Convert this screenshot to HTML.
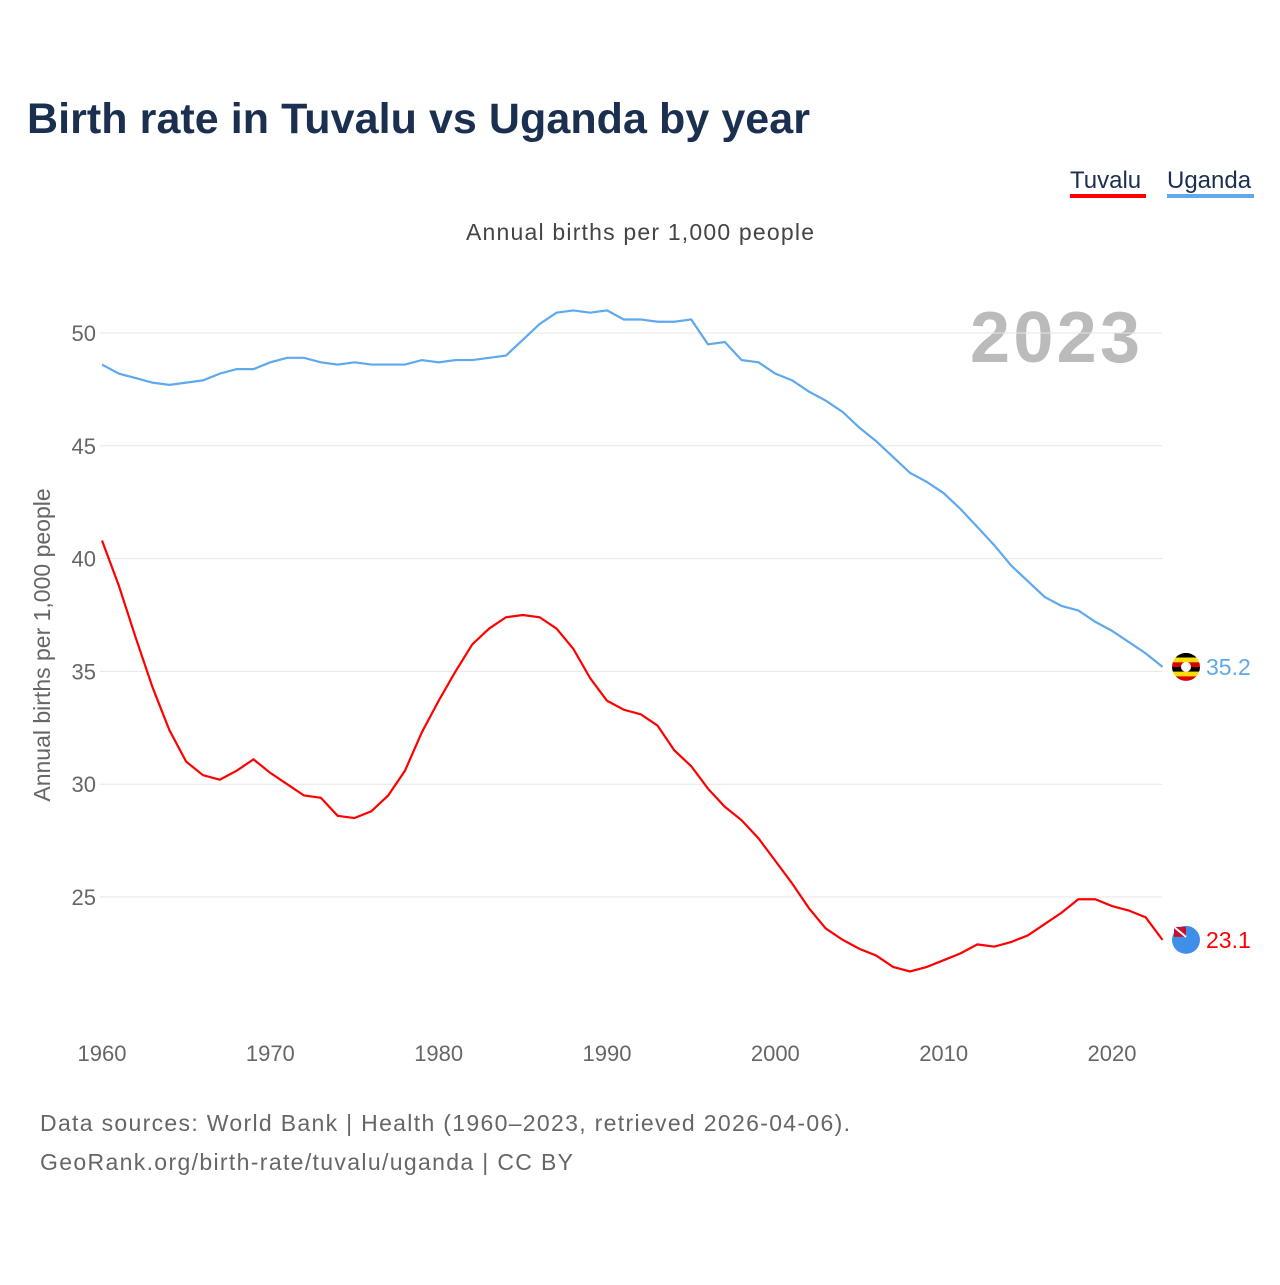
<!DOCTYPE html>
<html><head><meta charset="utf-8"><style>
body{margin:0;background:#fff;font-family:"Liberation Sans",sans-serif}
svg text{font-family:"Liberation Sans",sans-serif}
</style></head><body>
<svg id="chart" width="1280" height="1280">
<text x="27" y="133" font-size="43" font-weight="bold" fill="#1b3050" textLength="783">Birth rate in Tuvalu vs Uganda by year</text>
<g><text x="1070" y="188" font-size="24" fill="#1b3050">Tuvalu</text><rect x="1070" y="194" width="76" height="4" fill="#ff0000"/></g>
<g><text x="1167" y="188" font-size="24" fill="#1b3050">Uganda</text><rect x="1167" y="194" width="87" height="4" fill="#5ea8ee"/></g>
<text x="466" y="240" font-size="23" fill="#444" textLength="348">Annual births per 1,000 people</text>
<text x="970" y="362" font-size="72" font-weight="bold" fill="#bbb" textLength="170">2023</text>
<text transform="translate(50,645) rotate(-90)" font-size="23" fill="#666" text-anchor="middle">Annual births per 1,000 people</text>
<g id="grid"></g><g id="series"></g>
<text x="40" y="1131" font-size="23" fill="#666" textLength="810">Data sources: World Bank | Health (1960–2023, retrieved 2026-04-06).</text>
<text x="40" y="1170" font-size="23" fill="#666" textLength="533">GeoRank.org/birth-rate/tuvalu/uganda | CC BY</text>
</svg>
<script>
const years=[];for(let y=1960;y<=2023;y++)years.push(y);
const yTicks=[25,30,35,40,45,50];
const xTicks=[1960,1970,1980,1990,2000,2010,2020];
const uganda=[48.6,48.2,48.0,47.8,47.7,47.8,47.9,48.2,48.4,48.4,48.7,48.9,48.9,48.7,48.6,48.7,48.6,48.6,48.6,48.8,48.7,48.8,48.8,48.9,49.0,49.7,50.4,50.9,51.0,50.9,51.0,50.6,50.6,50.5,50.5,50.6,49.5,49.6,48.8,48.7,48.2,47.9,47.4,47.0,46.5,45.8,45.2,44.5,43.8,43.4,42.9,42.2,41.4,40.6,39.7,39.0,38.3,37.9,37.7,37.2,36.8,36.3,35.8,35.2];
const tuvalu=[40.8,38.8,36.5,34.3,32.4,31.0,30.4,30.2,30.6,31.1,30.5,30.0,29.5,29.4,28.6,28.5,28.8,29.5,30.6,32.3,33.7,35.0,36.2,36.9,37.4,37.5,37.4,36.9,36.0,34.7,33.7,33.3,33.1,32.6,31.5,30.8,29.8,29.0,28.4,27.6,26.6,25.6,24.5,23.6,23.1,22.7,22.4,21.9,21.7,21.9,22.2,22.5,22.9,22.8,23.0,23.3,23.8,24.3,24.9,24.9,24.6,24.4,24.1,23.1];
const X=y=>102+(y-1960)*(1010/60);
const Y=v=>333+(50-v)*22.56;
const NS='http://www.w3.org/2000/svg';
const grid=document.getElementById('grid'),ser=document.getElementById('series');
function mk(tag,attrs,parent){const e=document.createElementNS(NS,tag);for(const k in attrs)e.setAttribute(k,attrs[k]);parent.appendChild(e);return e;}
yTicks.forEach(v=>{
 const l=mk('line',{x1:100,x2:1162,y1:Y(v),y2:Y(v),stroke:'#e6e6e6'},grid);
 
 
 const t=mk('text',{x:96,y:Y(v)+8,'font-size':22,fill:'#666','text-anchor':'end'},grid);t.textContent=v;
 
 
});
xTicks.forEach(v=>{
 const t=mk('text',{x:X(v),y:1061,'font-size':22,fill:'#666','text-anchor':'middle'},grid);t.textContent=v;
 
 
});
function line(data,color,name){
 const p=mk('polyline',{points:data.map((v,i)=>X(years[i])+','+Y(v)).join(' '),fill:'none',stroke:color,'stroke-width':2.2},ser);
 
 
}
line(uganda,'#5ea8ee','uganda-line');
line(tuvalu,'#ff0000','tuvalu-line');
function end(data,color,name,flag){
 const v=data[data.length-1],y=Y(v);
 const g=mk('g',{},ser);
 
 
 if(flag==='ug'){
  const cl=mk('clipPath',{id:'cu'},g);mk('circle',{cx:1186,cy:y,r:14},cl);
  ['#000','#fcdc04','#d90000','#000','#fcdc04','#d90000'].forEach((c,i)=>mk('rect',{x:1172,y:y-14+i*4.7,width:28,height:4.8,fill:c,'clip-path':'url(#cu)'},g));
  mk('circle',{cx:1186,cy:y,r:5,fill:'#fff'},g);
 } else {
  mk('circle',{cx:1186,cy:y,r:14,fill:'#3f8fe8'},g);
  mk('rect',{x:1174,y:y-13,width:12,height:10,fill:'#c8102e'},g);
  mk('line',{x1:1174,y1:y-13,x2:1186,y2:y-3,stroke:'#fff','stroke-width':2},g);
 }
 const t=mk('text',{x:1206,y:y+8,'font-size':23,fill:color},g);t.textContent=v.toFixed(1);
}
end(uganda,'#5ea8ee','uganda-end-label','ug');
end(tuvalu,'#ff0000','tuvalu-end-label','tv');
</script>
</body></html>
